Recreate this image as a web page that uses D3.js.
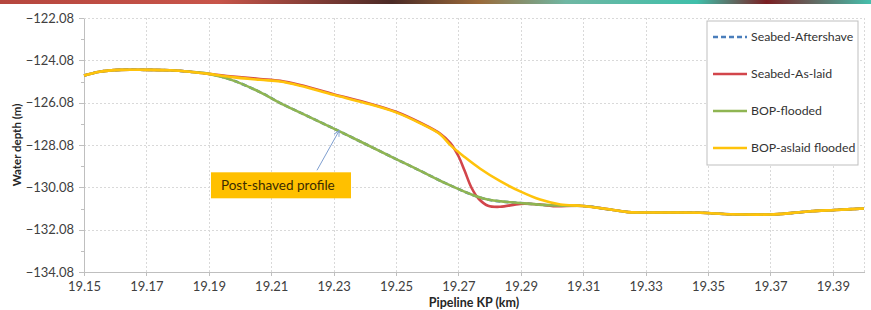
<!DOCTYPE html>
<html lang="en">

<head>
    <meta charset="UTF-8">
    <title>Pipeline profile</title>
    <style>
        body {
            margin: 0;
            background: #fff;
        }

        .grid line {
            stroke: #d9d9d9;
            stroke-dasharray: 2, 2;
            shape-rendering: crispEdges;
        }

        .grid path {
            stroke-width: 0;
        }

        .axis path,
        .axis line {
            stroke: #bfbfbf;
            shape-rendering: crispEdges;
        }

        .axis text {
            font: 13px Lato, sans-serif;
            fill: #404040;
        }

        .series {
            fill: none;
            stroke-width: 2.6px;
            stroke-linejoin: round;
        }
    </style>
</head>

<body>
    <script src="https://d3js.org/d3.v7.min.js"></script>
    <script>
        // tick values (y axis labels are odd: -122.08 ... -134.08)
        var kpTicks = [19.15, 19.17, 19.19, 19.21, 19.23, 19.25, 19.27, 19.29, 19.31, 19.33, 19.35, 19.37, 19.39];
        var depthTicks = [-122.08, -124.08, -126.08, -128.08, -130.08, -132.08, -134.08];

        var seriesNames = ["Seabed-Aftershave", "Seabed-As-laid", "BOP-flooded", "BOP-aslaid flooded"];

        // [KP km, depth m]
        var commonStart = [
            [19.150, -124.80], [19.155, -124.62], [19.1615, -124.53], [19.170, -124.53],
            [19.1776, -124.55], [19.184, -124.62], [19.190, -124.72]
        ];
        var commonEnd = [
            [19.310, -130.96], [19.3187, -131.13], [19.3245, -131.25], [19.3347, -131.27],
            [19.3476, -131.28], [19.3572, -131.35], [19.370, -131.36], [19.3764, -131.30],
            [19.3828, -131.21], [19.3908, -131.15], [19.400, -131.08]
        ];
        var shavedMid = [
            [19.1968, -124.98], [19.2064, -125.58], [19.2129, -126.10], [19.2193, -126.55],
            [19.2321, -127.45], [19.2497, -128.72], [19.2578, -129.30], [19.2658, -129.88],
            [19.2748, -130.45], [19.2802, -130.68], [19.2898, -130.82], [19.3004, -130.94]
        ];
        var asLaidMid = [
            [19.1968, -124.83], [19.2064, -124.96], [19.2129, -125.05], [19.2193, -125.25],
            [19.230, -125.68], [19.240, -126.06], [19.250, -126.51], [19.2578, -127.03],
            [19.2642, -127.55], [19.2675, -128.00], [19.2700, -128.60], [19.2720, -129.30],
            [19.2742, -130.10], [19.2765, -130.62], [19.2795, -130.95], [19.2834, -131.00],
            [19.2898, -130.86], [19.2962, -130.89], [19.3004, -130.97]
        ];
        var aslaidFloodedMid = [
            [19.1968, -124.86], [19.2064, -125.00], [19.2129, -125.08], [19.2193, -125.28],
            [19.230, -125.71], [19.240, -126.09], [19.250, -126.54], [19.2578, -127.06],
            [19.2642, -127.58], [19.2675, -128.10], [19.2720, -128.65], [19.277, -129.20],
            [19.2834, -129.79], [19.2898, -130.27], [19.2962, -130.66], [19.3027, -130.89]
        ];

        var seabedAftershave = commonStart.concat(shavedMid, commonEnd);
        var seabedAsLaid = commonStart.concat(asLaidMid, commonEnd);
        var bopFlooded = commonStart.concat(shavedMid, commonEnd);
        var bopAslaidFlooded = commonStart.concat(aslaidFloodedMid, commonEnd);

        var colors = ["#4a7ebb", "#d2454b", "#8fb552", "#ffc30b"];

        var W = 871, H = 310;
        var margin = { top: 18, right: 7, bottom: 38, left: 84 },
            width = W - margin.left - margin.right,
            height = H - margin.top - margin.bottom;

        var x = d3.scaleLinear().domain([19.15, 19.40]).range([0, width]);
        var y = d3.scaleLinear().domain([-122.08, -134.08]).range([0, height]);

        var svg = d3.select("body").append("svg")
            .attr("width", W)
            .attr("height", H);

        // photo strip at the top of the slide
        var grad = svg.append("defs").append("linearGradient").attr("id", "strip");
        [["0%", "#b5463e"], ["25%", "#c8554a"], ["45%", "#4a2a26"], ["55%", "#9a6a3a"],
         ["65%", "#6fb7a3"], ["80%", "#3fbfaa"], ["88%", "#7a1e22"], ["100%", "#45c0ad"]]
            .forEach(function (s) {
                grad.append("stop").attr("offset", s[0]).attr("stop-color", s[1]);
            });
        svg.append("rect").attr("width", W).attr("height", 4).attr("fill", "url(#strip)");

        var g = svg.append("g")
            .attr("transform", "translate(" + margin.left + "," + margin.top + ")");

        // gridlines
        g.append("g")
            .attr("class", "grid")
            .attr("transform", "translate(0," + height + ")")
            .call(d3.axisBottom(x).tickValues(kpTicks.concat([19.40])).tickSize(-height).tickFormat(""));
        g.append("g")
            .attr("class", "grid")
            .call(d3.axisLeft(y).tickValues(depthTicks).tickSize(-width).tickFormat(""));

        // axes
        g.append("g")
            .attr("class", "axis")
            .attr("transform", "translate(0," + height + ")")
            .call(d3.axisBottom(x).tickValues(kpTicks).tickSize(4).tickSizeOuter(0)
                .tickFormat(d3.format(".2f")))
            .selectAll("text").attr("dy", "0.95em");

        g.append("g")
            .attr("class", "axis")
            .call(d3.axisLeft(y).tickValues(depthTicks).tickSize(5).tickSizeOuter(0)
                .tickFormat(d3.format(".2f")))
            .selectAll("text").attr("x", -10);

        // minor ticks
        g.append("g")
            .attr("class", "axis")
            .call(d3.axisLeft(y).tickValues(depthTicks.slice(1).map(function (d) { return d + 1; }))
                .tickSize(3).tickSizeOuter(0).tickFormat(""))
            .select(".domain").remove();

        var line = d3.line()
            .x(function (d) { return x(d[0]); })
            .y(function (d) { return y(d[1]); })
            .curve(d3.curveCatmullRom.alpha(0.5));

        var data = [seabedAftershave, seabedAsLaid, bopFlooded, bopAslaidFlooded];

        g.selectAll(".series")
            .data(data)
            .enter().append("path")
            .attr("class", "series")
            .attr("d", line)
            .attr("stroke", function (d, i) { return colors[i]; })
            .attr("stroke-dasharray", function (d, i) { return i === 0 ? "5,3" : null; });

        // axis titles
        svg.append("text")
            .attr("transform", "translate(21," + (margin.top + height / 2) + ") rotate(-90)")
            .attr("text-anchor", "middle")
            .style("font", "bold 11.5px Lato, sans-serif")
            .attr("fill", "#262626")
            .text("Water depth (m)");

        svg.append("text")
            .attr("x", margin.left + width / 2)
            .attr("y", 307)
            .attr("text-anchor", "middle")
            .style("font", "bold 12.5px Lato, sans-serif")
            .attr("fill", "#262626")
            .text("Pipeline KP (km)");

        // legend
        var legend = g.append("g").attr("transform", "translate(" + (707 - margin.left) + "," + (21 - margin.top) + ")");
        legend.append("rect")
            .attr("width", 151).attr("height", 144)
            .attr("fill", "#fff").attr("stroke", "#bfbfbf");
        seriesNames.forEach(function (name, i) {
            var row = legend.append("g").attr("transform", "translate(0," + (16 + i * 37) + ")");
            row.append("line")
                .attr("x1", 6).attr("x2", 40)
                .attr("stroke", colors[i]).attr("stroke-width", 2.5)
                .attr("stroke-dasharray", i === 0 ? "5,3" : null);
            row.append("text")
                .attr("x", 44).attr("dy", "0.35em")
                .style("font", "12.3px Lato, sans-serif")
                .attr("fill", "#333")
                .text(name);
        });

        // callout pointing at the shaved profile
        var note = { kp: 19.1907, depth: -129.37, text: "Post-shaved profile", tipKp: 19.2318, tipDepth: -127.4 };
        var ann = g.append("g");
        ann.append("rect")
            .attr("x", x(note.kp)).attr("y", y(note.depth))
            .attr("width", 140).attr("height", 26)
            .attr("fill", "#ffc000");
        ann.append("text")
            .attr("x", x(note.kp) + 10).attr("y", y(note.depth) + 13).attr("dy", "0.35em")
            .style("font", "13.5px Lato, sans-serif")
            .attr("fill", "#3b2c00")
            .text(note.text);

        svg.select("defs").append("marker")
            .attr("id", "head").attr("viewBox", "0 0 10 10")
            .attr("refX", 9).attr("refY", 5)
            .attr("markerWidth", 7).attr("markerHeight", 7)
            .attr("orient", "auto")
            .append("path").attr("d", "M1,1 L9,5 L1,9").attr("fill", "none")
            .attr("stroke", "#7f9fd0").attr("stroke-width", 1.3);
        ann.append("line")
            .attr("x1", x(note.kp) + 106).attr("y1", y(note.depth) - 2)
            .attr("x2", x(note.tipKp)).attr("y2", y(note.tipDepth))
            .attr("stroke", "#7f9fd0").attr("stroke-width", 1)
            .attr("marker-end", "url(#head)");
    </script>
</body>

</html>
